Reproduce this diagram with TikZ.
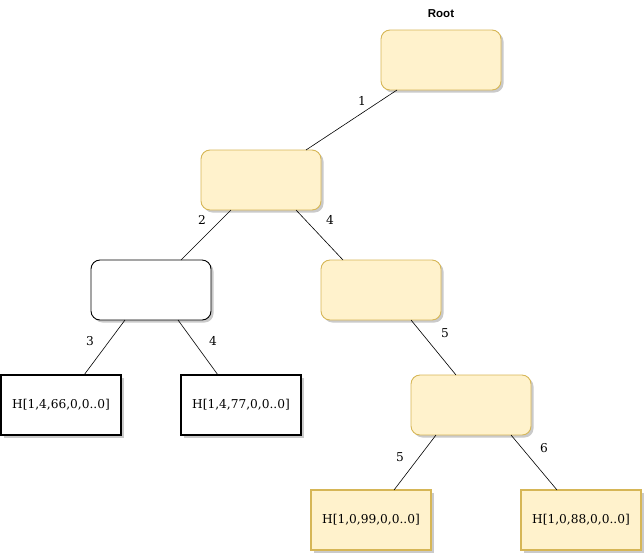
\documentclass[tikz,border=0pt]{standalone}
\usepackage{fontspec}
\setmainfont{DejaVu Serif}
\newfontfamily\labelsans{Liberation Sans}
\usetikzlibrary{shadows,calc}
\definecolor{boxfill}{HTML}{FFF2CC}
\definecolor{boxline}{HTML}{D6B656}
\begin{document}
\begin{tikzpicture}[x=1pt,y=-1pt,
  every node/.style={inner sep=0pt,outer sep=0pt},
  shad/.style={drop shadow={shadow xshift=2.5pt,shadow yshift=-2.5pt,fill=black!35,opacity=0.6}},
  ybox/.style={draw=boxline,fill=boxfill,line width=0.9pt,rounded corners=9pt,minimum width=120pt,minimum height=60pt,shad},
  wbox/.style={draw=black,fill=white,line width=0.9pt,rounded corners=9pt,minimum width=120pt,minimum height=60pt,shad},
  bleaf/.style={draw=black,fill=white,line width=2pt,minimum width=120pt,minimum height=60pt,shad,font=\fontsize{12.2}{14}\selectfont},
  yleaf/.style={draw=boxline,fill=boxfill,line width=2pt,minimum width=120pt,minimum height=60pt,shad,font=\fontsize{12.2}{14}\selectfont},
  elab/.style={font=\fontsize{12.2}{14}\selectfont},
  edge/.style={draw=black,line width=0.6pt}]
\useasboundingbox (0,0) rectangle (644,555);
\node[font=\labelsans\bfseries\fontsize{11.5}{13}\selectfont] (rootlab) at (441,14) {Root};
\node[ybox] (root) at (441,60) {};
\node[ybox] (A) at (261,180) {};
\node[wbox] (B) at (151,290) {};
\node[ybox] (C) at (381,290) {};
\node[ybox] (D) at (471,405) {};
\node[bleaf] (L1) at (61,405) {H[1,4,66,0,0..0]};
\node[bleaf] (L2) at (241,405) {H[1,4,77,0,0..0]};
\node[yleaf] (L3) at (371,520) {H[1,0,99,0,0..0]};
\node[yleaf] (L4) at (581,520) {H[1,0,88,0,0..0]};
\draw[edge] ([xshift=16pt]root.south west) -- ([xshift=105pt]A.north west);
\draw[edge] ([xshift=30pt]A.south west) -- ([xshift=90pt]B.north west);
\draw[edge] ([xshift=95pt]A.south west) -- ([xshift=22pt]C.north west);
\draw[edge] ([xshift=34pt]B.south west) -- ([xshift=83pt]L1.north west);
\draw[edge] ([xshift=87pt]B.south west) -- ([xshift=37pt]L2.north west);
\draw[edge] ([xshift=90pt]C.south west) -- ([xshift=45pt]D.north west);
\draw[edge] ([xshift=25pt]D.south west) -- ([xshift=83pt]L3.north west);
\draw[edge] ([xshift=100pt]D.south west) -- ([xshift=36pt]L4.north west);
\node[elab] (e1) at (362,101) {1};
\node[elab] (e2) at (202,220) {2};
\node[elab] (e3) at (330,220) {4};
\node[elab] (e4) at (90,341) {3};
\node[elab] (e5) at (213,341) {4};
\node[elab] (e6) at (445,333) {5};
\node[elab] (e7) at (400,457) {5};
\node[elab] (e8) at (544,448) {6};
\end{tikzpicture}
\end{document}
